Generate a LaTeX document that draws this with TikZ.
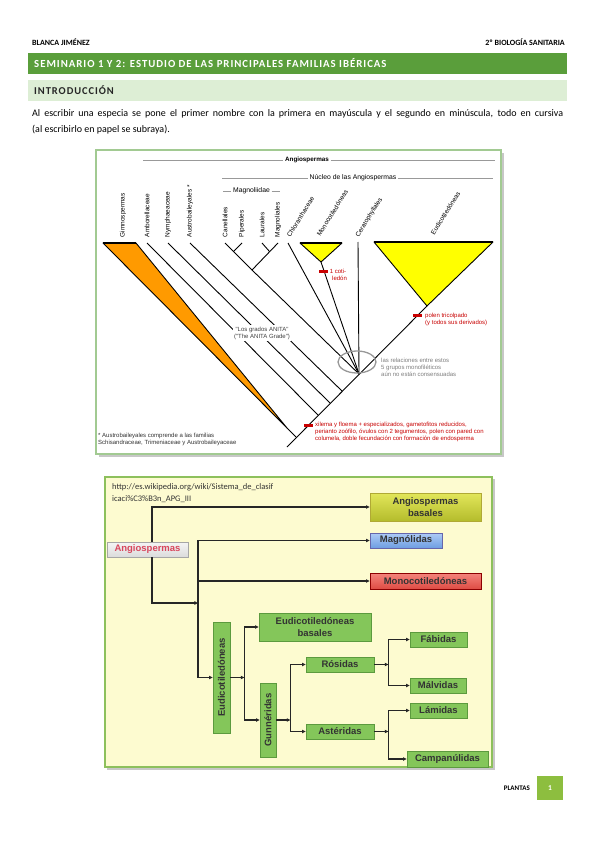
\documentclass[tikz,border=0pt]{standalone}
\usepackage{fontspec}
\setmainfont{Carlito}
\newfontfamily\arialf{Liberation Sans}
\newfontfamily\spacedf[LetterSpace=9]{Carlito}
\usetikzlibrary{arrows.meta}

\definecolor{barGreen}{HTML}{5A9E3B}
\definecolor{barLight}{HTML}{DDEED5}
\definecolor{tabGreen}{HTML}{8DBE3F}
\definecolor{frameA}{HTML}{A2CA92}
\definecolor{frameB}{HTML}{8DC05C}
\definecolor{paperYellow}{HTML}{FDFBD0}
\definecolor{gymOrange}{HTML}{FF9A00}
\definecolor{cladeYellow}{HTML}{FFFF00}
\definecolor{noteRed}{HTML}{C80000}
\definecolor{noteGray}{HTML}{7F7F7F}
\definecolor{boxGreen}{HTML}{84C65A}
\definecolor{boxGreenD}{HTML}{5C9A3E}
\definecolor{angioRed}{HTML}{D8465C}
\definecolor{basalTop}{HTML}{E2E65A}
\definecolor{basalBot}{HTML}{B4BC2C}
\definecolor{magnoTop}{HTML}{AECBF6}
\definecolor{magnoBot}{HTML}{6E9EE2}
\definecolor{monoTop}{HTML}{F4857C}
\definecolor{monoBot}{HTML}{DE4C44}

\tikzset{
  clade/.style={line width=0.9pt},
  cladetop/.style={line width=1.8pt},
  grouplab/.style={font=\arialf\fontsize{6.5}{7}\selectfont, inner sep=0.5pt, anchor=west},
  headlab/.style={font=\arialf\fontsize{6.8}{7}\selectfont, inner sep=1.5pt},
  headline/.style={draw=black!40, line width=0.5pt},
  rednote/.style={font=\arialf\fontsize{6}{7}\selectfont, text=noteRed, align=left, inner sep=0pt},
  graynote/.style={font=\arialf\fontsize{6}{7}\selectfont, text=noteGray, align=left, inner sep=0pt},
  redmark/.style={fill=noteRed, draw=none},
  taxbox/.style={draw=boxGreenD, fill=boxGreen, line width=0.7pt, inner sep=1pt,
    font=\arialf\bfseries\fontsize{9.5}{12.5}\selectfont, text=black!80, align=center},
  link/.style={draw=black!85, line width=1.1pt, -{Triangle[length=3.6pt,width=3.4pt]}},
}

\begin{document}
\begin{tikzpicture}[x=1pt,y=-1pt]
  \useasboundingbox (0,0) rectangle (599,848);
  \fill[white] (0,0) rectangle (599,848);

  % cabecera de la pagina
  \node[anchor=west, inner sep=0pt, font=\bfseries\fontsize{8}{9}\selectfont] (autor) at (32,42) {BLANCA JIMÉNEZ};
  \node[anchor=east, inner sep=0pt, font=\bfseries\fontsize{8}{9}\selectfont] (curso) at (565,42) {2º BIOLOGÍA SANITARIA};
  \fill[barGreen] (28,53) rectangle (567,74);
  \node[anchor=west, inner sep=0pt, text=white, font=\spacedf\bfseries\fontsize{10.8}{12}\selectfont] (tema) at (34,63.5) {SEMINARIO 1 Y 2: ESTUDIO DE LAS PRINCIPALES FAMILIAS IBÉRICAS};
  \fill[barLight] (28,80) rectangle (567,101);
  \node[anchor=west, inner sep=0pt, text=black!85, font=\spacedf\bfseries\fontsize{10.5}{12}\selectfont] (intro) at (34,90.5) {INTRODUCCIÓN};
  \node[anchor=west, inner sep=0pt, font=\fontsize{10}{12}\selectfont] (par1) at (32,114)
    {\makebox[531pt][s]{Al escribir una especia se pone el primer nombre con la primera en mayúscula y el segundo en minúscula, todo en cursiva}};
  \node[anchor=west, inner sep=0pt, font=\fontsize{10}{12}\selectfont] (par2) at (32,130) {(al escribirlo en papel se subraya).};

  % figura 1: arbol filogenetico
  \fill[black!22] (99,153) rectangle (504,457);
  \draw[frameA, line width=1.4pt, fill=white] (96,150) rectangle (501,454);

  \node[headlab, font=\arialf\bfseries\fontsize{6.3}{7}\selectfont] (hAng) at (307,160) {Angiospermas};
  \draw[headline] (143,160) -- (hAng.west);
  \draw[headline] (hAng.east) -- (495,160);
  \node[headlab] (hNuc) at (353,178) {Núcleo de las Angiospermas};
  \draw[headline] (222,178) -- (hNuc.west);
  \draw[headline] (hNuc.east) -- (493,178);
  \node[headlab] (hMag) at (251.5,191) {Magnoliidae};
  \draw[headline] (223,191) -- (hMag.west);
  \draw[headline] (hMag.east) -- (280,191);

  \foreach \x/\name [count=\i] in {123/Gimnospermas, 147/Amborellaceae, 168/Nymphaeaceae,
      190/{Austrobaileyales *}, 225/Canellales, 242/Piperales, 262/Laurales, 278/Magnoliales} {
    \node[grouplab, rotate=90] (lab\i) at (\x,238) {\name};
    \coordinate (tip\i) at (\x,243);
  }
  \foreach \x/\y/\name [count=\i] in {288/237/Chloranthaceae, 318/236/Monocotiledóneas,
      357/237/Ceratophyllales, 432/235/Eudicotiledóneas}
    \node[grouplab, rotate=58] (slab\i) at (\x,\y) {\name};

  \coordinate (root) at (287,447);
  \coordinate (gymJ) at (296,437);
  \coordinate (ambJ) at (318,415);
  \coordinate (nymJ) at (330,403);
  \coordinate (ausJ) at (342,391);
  \coordinate (poly) at (359,374);
  \coordinate (eudV) at (427,306);
  \coordinate (monV) at (321,262);
  \coordinate (magN) at (252,270);

  % gimnospermas y tronco
  \filldraw[fill=gymOrange, draw=black, clade, line join=round] (103,243) -- (136,243) -- (287,428) -- cycle;
  \draw[cladetop] (103,243) -- (136,243);
  \draw[clade] (287,428) -- (gymJ);
  \draw[clade] (root) -- (eudV);

  % grado ANITA
  \draw[clade] (tip2) -- (ambJ);
  \draw[clade] (tip3) -- (nymJ);
  \draw[clade] (tip4) -- (ausJ);

  % magnolidas
  \draw[clade] (tip5) -- (magN);
  \draw[clade] (tip8) -- (magN);
  \draw[clade] (tip6) -- (233.5,251.5);
  \draw[clade] (tip7) -- (269.5,251.5);
  \draw[clade] (magN) -- (poly);

  % nucleo restante
  \draw[clade] (288,243) -- (poly);
  \draw[clade] (monV) -- (poly);
  \draw[clade] (358,242) -- (poly);
  \filldraw[fill=cladeYellow, draw=black, clade, line join=round] (300,243) -- (342,243) -- (monV) -- cycle;
  \draw[cladetop] (300,243) -- (342,243);
  \filldraw[fill=cladeYellow, draw=black, clade, line join=round] (374,242) -- (493,242) -- (eudV) -- cycle;
  \draw[cladetop] (374,242) -- (493,242);

  \draw[noteGray!80, line width=1.3pt] (357,362) ellipse [x radius=19, y radius=11];

  % notas
  \node[font=\arialf\fontsize{6}{7}\selectfont, text=black!75, fill=white, align=center, inner sep=1.5pt] (anita) at (262,333)
    {"Los grados ANITA"\\("The ANITA Grade")};
  \fill[redmark] (318.5,269.5) rectangle ++(9,3);
  \node[rednote, align=center, anchor=west] (cotil) at (329,274.5) {1 coti-\\\hspace*{3pt}ledón};
  \fill[redmark] (412.5,313.5) rectangle ++(9,3);
  \node[rednote, anchor=west] (polen) at (425,319) {polen tricolpado\\(y todos sus derivados)};
  \node[graynote, anchor=west] (relac) at (381,367) {las relaciones entre estos\\5 grupos monofiléticos\\aún no están consensuadas};
  \fill[redmark] (304,423.5) rectangle ++(9,3);
  \node[rednote, anchor=west] (xilema) at (315,432)
    {xilema y floema + especializados, gametofitos reducidos,\\perianto zoófilo, óvulos con 2 tegumentos, polen con pared con\\columela, doble fecundación con formación de endosperma};
  \node[font=\arialf\fontsize{6}{7}\selectfont, text=black!80, align=left, anchor=west, inner sep=0pt] (nota) at (98,439.5)
    {* Austrobaileyales comprende a las familias\\Schisandraceae, Trimeniaceae y Austrobaileyaceae};

  % figura 2: clasificacion APG III
  \fill[black!22] (107,479) rectangle (495,770);
  \draw[frameB, line width=1.2pt, fill=paperYellow] (105,477) rectangle (492,767);
  \node[font=\fontsize{8.5}{12}\selectfont, text=black!80, anchor=west, align=left, inner sep=0pt] (url) at (112,493)
    {http://es.wikipedia.org/wiki/Sistema\_de\_clasif\\icaci\%C3\%B3n\_APG\_III};

  \node[taxbox, top color=black!4, bottom color=black!14, draw=black!35, text=angioRed, minimum width=81, minimum height=15] (angio) at (147.5,549.5) {Angiospermas};
  \node[taxbox, top color=basalTop, bottom color=basalBot, draw=olive!70, minimum width=111, minimum height=28] (basal) at (425.5,507) {Angiospermas\\basales};
  \node[taxbox, top color=magnoTop, bottom color=magnoBot, draw=blue!45!black!60, minimum width=72, minimum height=15] (magno) at (406,540.5) {Magnólidas};
  \node[taxbox, top color=monoTop, bottom color=monoBot, draw=red!55!black, minimum width=111, minimum height=16] (mono) at (425.5,581) {Monocotiledóneas};
  \node[taxbox, rotate=90, minimum width=111, minimum height=17] (eudi) at (221.5,677.5) {Eudicotiledóneas};
  \node[taxbox, minimum width=112, minimum height=28] (ebas) at (315,627) {Eudicotiledóneas\\basales};
  \node[taxbox, rotate=90, minimum width=74, minimum height=16] (gunn) at (268,720) {Gunnéridas};
  \node[taxbox, minimum width=68, minimum height=15] (ros) at (340,664.5) {Rósidas};
  \node[taxbox, minimum width=68, minimum height=15] (ast) at (340,731.5) {Astéridas};
  \node[taxbox, minimum width=57, minimum height=15] (fab) at (438.5,639.5) {Fábidas};
  \node[taxbox, minimum width=56, minimum height=15] (mal) at (438,685.5) {Málvidas};
  \node[taxbox, minimum width=57, minimum height=15] (lam) at (438.5,710.5) {Lámidas};
  \node[taxbox, minimum width=81, minimum height=16] (camp) at (447.5,759) {Campanúlidas};

  \coordinate (jB) at (198,603);
  \coordinate (jC) at ([xshift=14pt]eudi.south);
  \coordinate (jD) at ([xshift=14pt]gunn.south);
  \coordinate (jE) at ([xshift=14pt]ros.east);
  \coordinate (jF) at ([xshift=14pt]ast.east);

  \draw[link] ([xshift=4.5pt]angio.north) |- (basal.west);
  \draw[link] ([xshift=4.5pt]angio.south) |- (jB);
  \draw[link] (jB) |- (magno.west);
  \draw[link] (jB) |- (mono.west);
  \draw[link] (jB) |- (eudi.north);
  \draw[link] (eudi.south) -- (jC);
  \draw[link] (jC) |- (ebas.west);
  \draw[link] (jC) |- (gunn.north);
  \draw[link] (gunn.south) -- (jD);
  \draw[link] (jD) |- (ros.west);
  \draw[link] (jD) |- (ast.west);
  \draw[link] (ros.east) -- (jE);
  \draw[link] (jE) |- (fab.west);
  \draw[link] (jE) |- (mal.west);
  \draw[link] (ast.east) -- (jF);
  \draw[link] (jF) |- (lam.west);
  \draw[link] (jF) |- (camp.west);

  % pie de pagina
  \node[anchor=east, inner sep=0pt, font=\bfseries\fontsize{7}{9}\selectfont] (pie) at (530,788) {PLANTAS};
  \fill[tabGreen] (537,776) rectangle (563,800);
  \node[text=white, font=\bfseries\fontsize{7.5}{9}\selectfont] (pagina) at (550,788) {1};
\end{tikzpicture}
\end{document}
